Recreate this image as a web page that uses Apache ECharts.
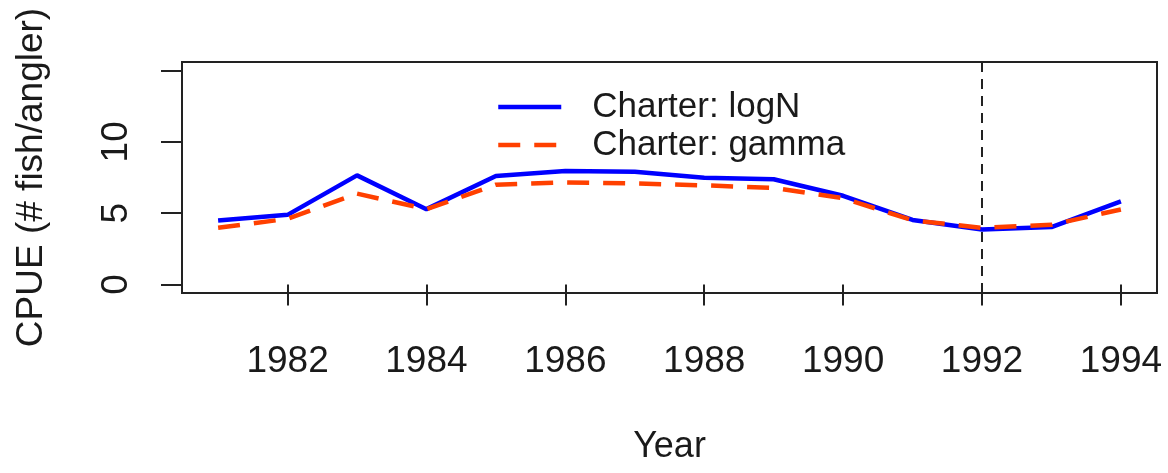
<!DOCTYPE html>
<html lang="en">
<head>
    <meta charset="UTF-8">
    <title>CPUE</title>
    <script src="https://cdn.jsdelivr.net/npm/echarts@6/dist/echarts.min.js"></script>
    <style>
        html, body { margin: 0; padding: 0; background: #fff; }
        #chart { width: 1168px; height: 473px; }
    </style>
</head>
<body>
<div id="chart"></div>
<script>
    // data
    var years = [1981, 1982, 1983, 1984, 1985, 1986, 1987, 1988, 1989, 1990, 1991, 1992, 1993, 1994];
    var logN = [4.48, 4.88, 7.65, 5.28, 7.6, 7.95, 7.9, 7.48, 7.38, 6.22, 4.52, 3.85, 4.02, 5.82];
    var gamma = [3.98, 4.6, 6.37, 5.28, 7.0, 7.15, 7.08, 6.95, 6.77, 6.05, 4.5, 3.97, 4.18, 5.26];
    var xTicks = [1982, 1984, 1986, 1988, 1990, 1992, 1994];
    var yTicks = [0, 5, 10, 15];
    var yLabels = [0, 5, 10];
    var refYear = 1992;

    function pairs(xs, ys) {
        var out = [];
        for (var i = 0; i < xs.length; i++) {
            out.push([xs[i], ys[i]]);
        }
        return out;
    }

    var chart = echarts.init(document.getElementById('chart'));
    var font = 'Liberation Sans, Arial, sans-serif';

    chart.setOption({
        animation: false,
        backgroundColor: '#ffffff',
        grid: {
            left: 182, right: 11, top: 62, bottom: 180,
            show: true, borderColor: '#222', borderWidth: 2
        },
        legend: {
            orient: 'vertical',
            left: 491,
            top: 84,
            itemWidth: 63,
            itemHeight: 20,
            itemGap: 2,
            itemStyle: { opacity: 0 },
            lineStyle: { width: 4.5 },
            textStyle: {
                fontFamily: font, fontSize: 35, color: '#1a1a1a',
                lineHeight: 36, padding: [0, 0, 0, 26]
            },
            data: ['Charter: logN', 'Charter: gamma']
        },
        xAxis: {
            type: 'value',
            min: 1980.48,
            max: 1994.52,
            name: 'Year',
            nameLocation: 'middle',
            nameGap: 136,
            nameTextStyle: { fontFamily: font, fontSize: 36, color: '#1a1a1a' },
            axisLine: { show: false },
            splitLine: { show: false },
            axisTick: {
                show: true, inside: false, length: 21,
                customValues: xTicks,
                lineStyle: { color: '#222', width: 2 }
            },
            axisLabel: {
                customValues: xTicks,
                margin: 50,
                formatter: function (v) { return String(v); },
                fontFamily: font, fontSize: 37, color: '#1a1a1a'
            }
        },
        yAxis: {
            type: 'value',
            min: -0.6,
            max: 15.6,
            name: 'CPUE (# fish/angler)',
            nameLocation: 'middle',
            nameRotate: 90,
            nameGap: 132,
            nameTextStyle: { fontFamily: font, fontSize: 37, color: '#1a1a1a' },
            axisLine: { show: false },
            splitLine: { show: false },
            axisTick: {
                show: true, inside: false, length: 21,
                customValues: yTicks,
                lineStyle: { color: '#222', width: 2 }
            },
            axisLabel: {
                customValues: yLabels,
                rotate: 90,
                margin: 47,
                fontFamily: font, fontSize: 37, color: '#1a1a1a'
            }
        },
        series: [
            {
                name: 'Charter: logN',
                type: 'line',
                symbol: 'none',
                color: '#0000ff',
                lineStyle: { color: '#0000ff', width: 4.5 },
                data: pairs(years, logN),
                markLine: {
                    silent: true,
                    symbol: 'none',
                    label: { show: false },
                    lineStyle: { color: '#222', width: 2, type: [10, 7] },
                    data: [{ xAxis: refYear }]
                }
            },
            {
                name: 'Charter: gamma',
                type: 'line',
                symbol: 'none',
                color: '#ff4000',
                lineStyle: { color: '#ff4000', width: 4.5, type: [22, 14] },
                data: pairs(years, gamma)
            }
        ]
    });

    window.addEventListener('resize', function () {
        chart.resize();
    });
</script>
</body>
</html>
